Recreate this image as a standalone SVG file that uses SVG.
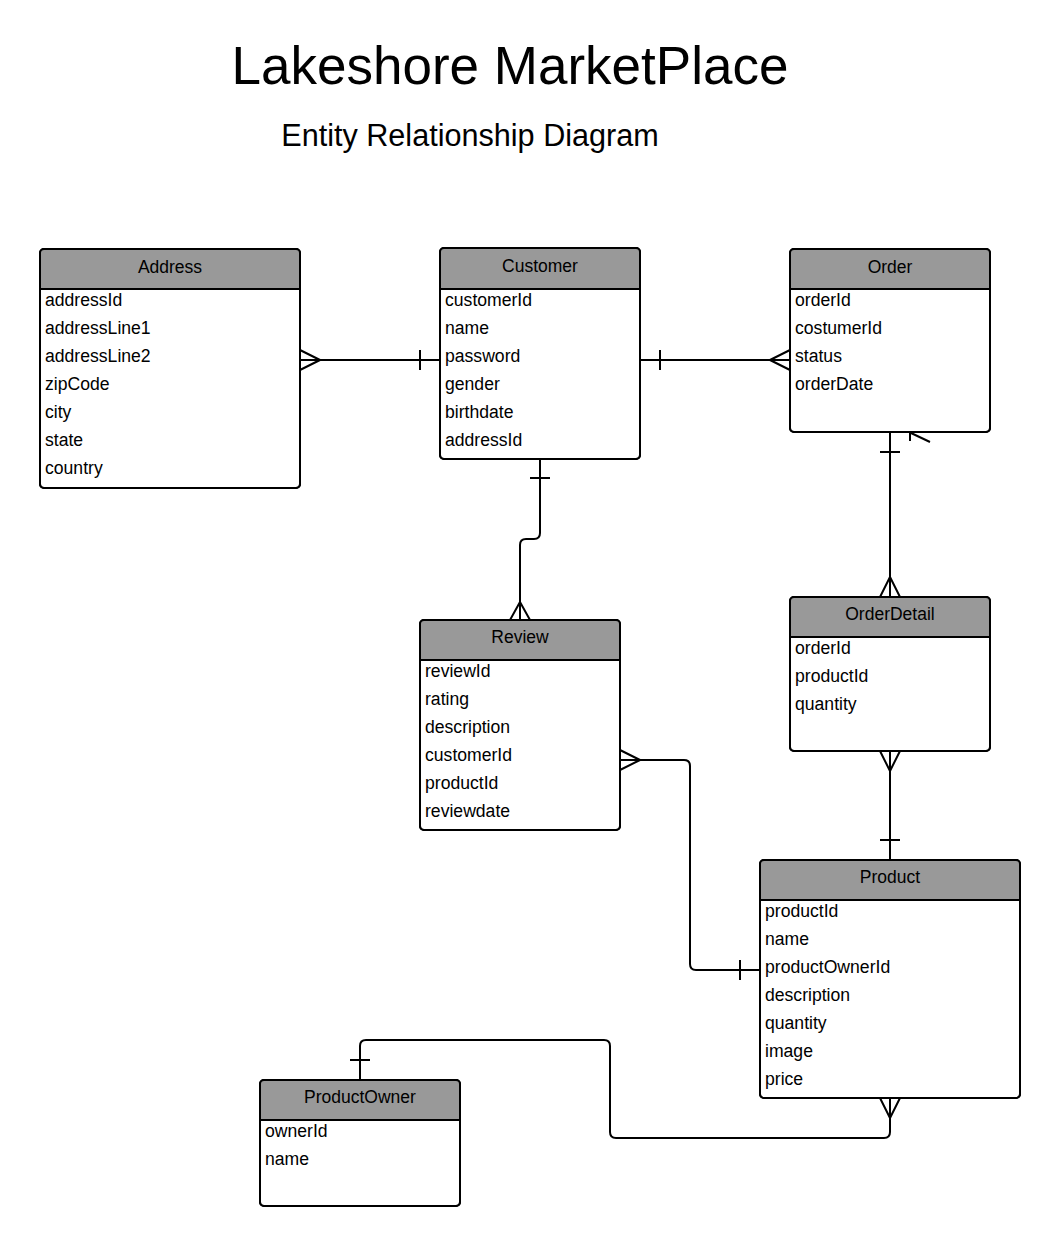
<svg xmlns="http://www.w3.org/2000/svg" width="1060" height="1247" viewBox="0 0 1060 1247">
<style>
.box{fill:#fff;stroke:#000;stroke-width:2}
.hdr{fill:#999;stroke:none}
.sep{stroke:#000;stroke-width:2}
.frame{fill:none;stroke:#000;stroke-width:2}
.ht{font-family:"Liberation Sans",Arial,sans-serif;font-size:17.5px;text-anchor:middle;fill:#000}
.rt{font-family:"Liberation Sans",Arial,sans-serif;font-size:17.6px;fill:#000}
.c{fill:none;stroke:#000;stroke-width:2;stroke-linejoin:round}
.title{font-family:"Liberation Sans",Arial,sans-serif;fill:#000}
</style>
<rect width="1060" height="1247" fill="#fff"/>
<text class="title" x="510" y="84" font-size="53" text-anchor="middle">Lakeshore MarketPlace</text>
<text class="title" x="470" y="146" font-size="30.6" text-anchor="middle">Entity Relationship Diagram</text>

<g id="connectors">
  <!-- Address - Customer -->
  <path class="c" d="M300,360 H440"/>
  <path class="c" d="M300,350 L320,360 L300,370"/>
  <path class="c" d="M420,350 V370"/>
  <!-- Customer - Order -->
  <path class="c" d="M640,360 H790"/>
  <path class="c" d="M660,350 V370"/>
  <path class="c" d="M790,350 L770,360 L790,370"/>
  <!-- Order - OrderDetail -->
  <path class="c" d="M890,432 V597"/>
  <path class="c" d="M880,452 H900"/>
  <path class="c" d="M880,597 L890,577 L900,597"/>
  <path class="c" d="M910,432 V441 M911,433 L930,442"/>
  <!-- Customer - Review -->
  <path class="c" d="M540,459 V533 Q540,539 534,539 H526 Q520,539 520,545 V620"/>
  <path class="c" d="M530,478 H550"/>
  <path class="c" d="M510,620 L520,602 L530,620"/>
  <!-- Review - Product -->
  <path class="c" d="M620,760 H684 Q690,760 690,766 V964 Q690,970 696,970 H760"/>
  <path class="c" d="M620,750 L640,760 L620,770"/>
  <path class="c" d="M740,960 V980"/>
  <!-- OrderDetail - Product -->
  <path class="c" d="M890,751 V860"/>
  <path class="c" d="M880,751 L890,771 L900,751"/>
  <path class="c" d="M880,840 H900"/>
  <!-- ProductOwner - Product -->
  <path class="c" d="M360,1080 V1046 Q360,1040 366,1040 H604 Q610,1040 610,1046 V1132 Q610,1138 616,1138 H884 Q890,1138 890,1132 V1098"/>
  <path class="c" d="M350,1060 H370"/>
  <path class="c" d="M880,1098 L890,1118 L900,1098"/>
</g>

<g id="address">
  <rect class="box" x="40" y="249" width="260" height="239" rx="4"/>
  <path class="hdr" d="M40,289 V253 Q40,249 44,249 H296 Q300,249 300,253 V289 Z"/>
  <line class="sep" x1="40" y1="289" x2="300" y2="289"/>
  <rect class="frame" x="40" y="249" width="260" height="239" rx="4"/>
  <text class="ht" x="170" y="273">Address</text>
  <text class="rt" x="45" y="306">addressId</text>
  <text class="rt" x="45" y="334">addressLine1</text>
  <text class="rt" x="45" y="362">addressLine2</text>
  <text class="rt" x="45" y="390">zipCode</text>
  <text class="rt" x="45" y="418">city</text>
  <text class="rt" x="45" y="446">state</text>
  <text class="rt" x="45" y="474">country</text>
</g>

<g id="customer">
  <rect class="box" x="440" y="248" width="200" height="211" rx="4"/>
  <path class="hdr" d="M440,289 V252 Q440,248 444,248 H636 Q640,248 640,252 V289 Z"/>
  <line class="sep" x1="440" y1="289" x2="640" y2="289"/>
  <rect class="frame" x="440" y="248" width="200" height="211" rx="4"/>
  <text class="ht" x="540" y="272">Customer</text>
  <text class="rt" x="445" y="306">customerId</text>
  <text class="rt" x="445" y="334">name</text>
  <text class="rt" x="445" y="362">password</text>
  <text class="rt" x="445" y="390">gender</text>
  <text class="rt" x="445" y="418">birthdate</text>
  <text class="rt" x="445" y="446">addressId</text>
</g>

<g id="order">
  <rect class="box" x="790" y="249" width="200" height="183" rx="4"/>
  <path class="hdr" d="M790,289 V253 Q790,249 794,249 H986 Q990,249 990,253 V289 Z"/>
  <line class="sep" x1="790" y1="289" x2="990" y2="289"/>
  <rect class="frame" x="790" y="249" width="200" height="183" rx="4"/>
  <text class="ht" x="890" y="273">Order</text>
  <text class="rt" x="795" y="306">orderId</text>
  <text class="rt" x="795" y="334">costumerId</text>
  <text class="rt" x="795" y="362">status</text>
  <text class="rt" x="795" y="390">orderDate</text>
</g>

<g id="review">
  <rect class="box" x="420" y="620" width="200" height="210" rx="4"/>
  <path class="hdr" d="M420,660 V624 Q420,620 424,620 H616 Q620,620 620,624 V660 Z"/>
  <line class="sep" x1="420" y1="660" x2="620" y2="660"/>
  <rect class="frame" x="420" y="620" width="200" height="210" rx="4"/>
  <text class="ht" x="520" y="643">Review</text>
  <text class="rt" x="425" y="677">reviewId</text>
  <text class="rt" x="425" y="705">rating</text>
  <text class="rt" x="425" y="733">description</text>
  <text class="rt" x="425" y="761">customerId</text>
  <text class="rt" x="425" y="789">productId</text>
  <text class="rt" x="425" y="817">reviewdate</text>
</g>

<g id="orderdetail">
  <rect class="box" x="790" y="597" width="200" height="154" rx="4"/>
  <path class="hdr" d="M790,637 V601 Q790,597 794,597 H986 Q990,597 990,601 V637 Z"/>
  <line class="sep" x1="790" y1="637" x2="990" y2="637"/>
  <rect class="frame" x="790" y="597" width="200" height="154" rx="4"/>
  <text class="ht" x="890" y="620">OrderDetail</text>
  <text class="rt" x="795" y="654">orderId</text>
  <text class="rt" x="795" y="682">productId</text>
  <text class="rt" x="795" y="710">quantity</text>
</g>

<g id="product">
  <rect class="box" x="760" y="860" width="260" height="238" rx="4"/>
  <path class="hdr" d="M760,900 V864 Q760,860 764,860 H1016 Q1020,860 1020,864 V900 Z"/>
  <line class="sep" x1="760" y1="900" x2="1020" y2="900"/>
  <rect class="frame" x="760" y="860" width="260" height="238" rx="4"/>
  <text class="ht" x="890" y="883">Product</text>
  <text class="rt" x="765" y="917">productId</text>
  <text class="rt" x="765" y="945">name</text>
  <text class="rt" x="765" y="973">productOwnerId</text>
  <text class="rt" x="765" y="1001">description</text>
  <text class="rt" x="765" y="1029">quantity</text>
  <text class="rt" x="765" y="1057">image</text>
  <text class="rt" x="765" y="1085">price</text>
</g>

<g id="productowner">
  <rect class="box" x="260" y="1080" width="200" height="126" rx="4"/>
  <path class="hdr" d="M260,1120 V1084 Q260,1080 264,1080 H456 Q460,1080 460,1084 V1120 Z"/>
  <line class="sep" x1="260" y1="1120" x2="460" y2="1120"/>
  <rect class="frame" x="260" y="1080" width="200" height="126" rx="4"/>
  <text class="ht" x="360" y="1103">ProductOwner</text>
  <text class="rt" x="265" y="1137">ownerId</text>
  <text class="rt" x="265" y="1165">name</text>
</g>
</svg>
